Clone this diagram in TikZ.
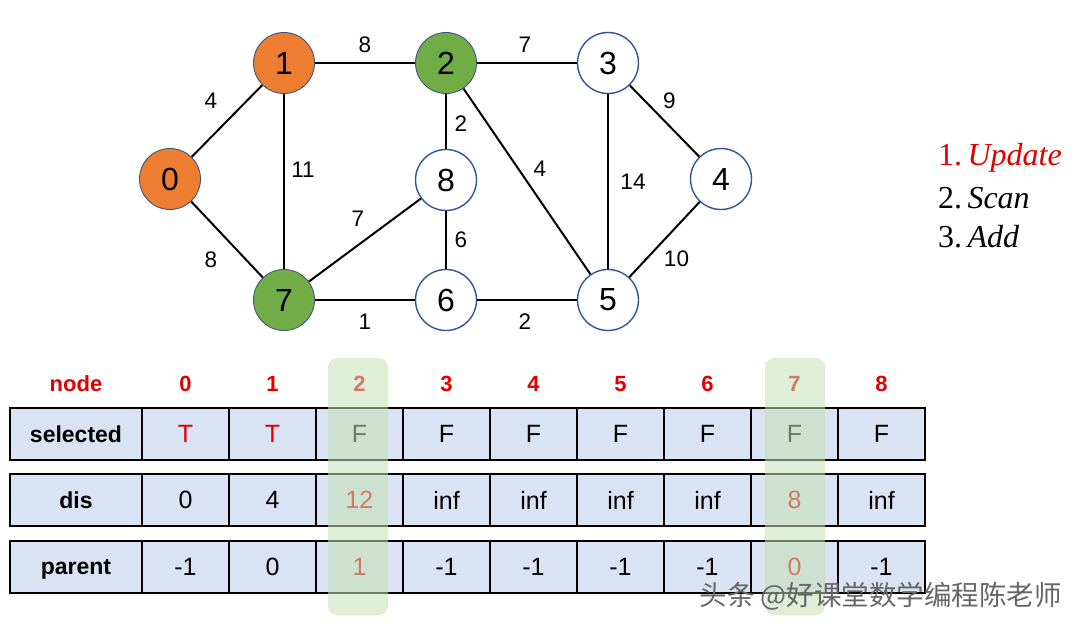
\documentclass[tikz,border=0pt]{standalone}
\usepackage{fontspec}
\setmainfont{Liberation Sans}
\newfontfamily\cjkfont{Noto Sans CJK SC}
\newfontfamily\stepfont{Liberation Serif}
\usetikzlibrary{calc}
\usetikzlibrary{positioning}
\definecolor{nodeorange}{HTML}{ED7D31}
\definecolor{nodegreen}{HTML}{70AD47}
\definecolor{rimblue}{HTML}{2F5597}
\definecolor{rimdark}{HTML}{41557A}
\definecolor{cellblue}{HTML}{DAE3F3}
\definecolor{markgreen}{HTML}{C5E0B4}
\definecolor{headred}{HTML}{E00000}
\tikzstyle{vertex} = [draw=rimblue, circle, line width=1.4pt, minimum size=61pt, inner sep=0pt, fill=white, font=\fontsize{32}{36}\selectfont]
\tikzstyle{colorA} = [fill=nodeorange, draw=rimdark, line width=0.9pt]
\tikzstyle{colorB} = [fill=nodegreen, draw=rimdark, line width=0.9pt]
\tikzstyle{edge} = [line width=2pt]
\tikzstyle{weight} = [font=\fontsize{22.5}{25}\selectfont, inner sep=0pt]
\tikzstyle{cell} = [draw, line width=2pt, fill=cellblue, minimum width=87pt, minimum height=52pt, inner sep=0pt, text depth=0pt, font=\fontsize{25}{28}\selectfont]
\tikzstyle{labcell} = [cell, minimum width=132pt, font=\fontsize{23}{26}\selectfont\bfseries]
\tikzstyle{headtext} = [text=headred, inner sep=0pt, font=\fontsize{22}{26}\selectfont\bfseries]
\tikzstyle{markcol} = [fill=markgreen, opacity=0.55, rounded corners=9pt, minimum width=60pt, minimum height=257pt, inner sep=0pt]
\tikzstyle{steptext} = [anchor=west, inner sep=0pt, font=\stepfont\fontsize{32}{36}\selectfont]

\begin{document}
\begin{tikzpicture}[x=1pt, y=-1pt]
\useasboundingbox (0,0) rectangle (1080,626);
% graph
\node[vertex, colorA] (n0) at (170,179) {0};
\node[vertex, colorA] (n1) at ($(n0)+(114,-116)$) {1};
\node[vertex, colorB] (n2) at ($(n1)+(162,0)$) {2};
\node[vertex] (n3) at ($(n2)+(162,0)$) {3};
\node[vertex] (n4) at ($(n0)+(551,0)$) {4};
\node[vertex] (n8) at ($(n2)+(0,117)$) {8};
\node[vertex, colorB] (n7) at ($(n1)+(0,237)$) {7};
\node[vertex] (n6) at ($(n7)+(162,0)$) {6};
\node[vertex] (n5) at ($(n6)+(162,0)$) {5};
\draw[edge] (n0) -- node[weight, xshift=-16pt, yshift=20pt] {4} (n1);
\draw[edge] (n1) -- node[weight, yshift=18pt] {8} (n2);
\draw[edge] (n2) -- node[weight, xshift=-2pt, yshift=18pt] {7} (n3);
\draw[edge] (n3) -- node[weight, xshift=5pt, yshift=20pt] {9} (n4);
\draw[edge] (n1) -- node[weight, xshift=19pt, yshift=12pt] {11} (n7);
\draw[edge] (n2) -- node[weight, xshift=15pt, yshift=-2pt] {2} (n8);
\draw[edge] (n2) -- node[weight, xshift=13pt, yshift=13pt] {4} (n5);
\draw[edge] (n3) -- node[weight, xshift=25pt] {14} (n5);
\draw[edge] (n8) -- node[weight, xshift=-7pt, yshift=21pt] {7} (n7);
\draw[edge] (n8) -- node[weight, xshift=15pt] {6} (n6);
\draw[edge] (n0) -- node[weight, xshift=-16pt, yshift=-20pt] {8} (n7);
\draw[edge] (n4) -- node[weight, xshift=12pt, yshift=-19pt] {10} (n5);
\draw[edge] (n7) -- node[weight, yshift=-22pt] {1} (n6);
\draw[edge] (n6) -- node[weight, xshift=-2pt, yshift=-22pt] {2} (n5);

% steps
\node[steptext, text=headred] (up) at (938,158) {1.\,\textit{Update}};
\node[steptext] (scan) at ($(up.west)+(0,40)$) {2.\,\textit{Scan}};
\node[steptext] (add) at ($(scan.west)+(0,39)$) {3.\,\textit{Add}};

% table header
\node[headtext] (head) at (76,384) {node};
\node[headtext] (h0) at ($(head)+(109.5,0)$) {0};
\node[headtext] (h1) at ($(h0)+(87,0)$) {1};
\node[headtext] (h2) at ($(h1)+(87,0)$) {2};
\node[headtext] (h3) at ($(h2)+(87,0)$) {3};
\node[headtext] (h4) at ($(h3)+(87,0)$) {4};
\node[headtext] (h5) at ($(h4)+(87,0)$) {5};
\node[headtext] (h6) at ($(h5)+(87,0)$) {6};
\node[headtext] (h7) at ($(h6)+(87,0)$) {7};
\node[headtext] (h8) at ($(h7)+(87,0)$) {8};

% selected
\node[labcell] (sel) at (76,434) {selected};
\node[cell, text=headred] (s0) at ($(sel)+(109.5,0)$) {T};
\node[cell, text=headred] (s1) at ($(s0)+(87,0)$) {T};
\node[cell] (s2) at ($(s1)+(87,0)$) {F};
\node[cell] (s3) at ($(s2)+(87,0)$) {F};
\node[cell] (s4) at ($(s3)+(87,0)$) {F};
\node[cell] (s5) at ($(s4)+(87,0)$) {F};
\node[cell] (s6) at ($(s5)+(87,0)$) {F};
\node[cell] (s7) at ($(s6)+(87,0)$) {F};
\node[cell] (s8) at ($(s7)+(87,0)$) {F};

% dis
\node[labcell] (dis) at ($(sel)+(0,66)$) {dis};
\node[cell] (d0) at ($(dis)+(109.5,0)$) {0};
\node[cell] (d1) at ($(d0)+(87,0)$) {4};
\node[cell, text=headred] (d2) at ($(d1)+(87,0)$) {12};
\node[cell] (d3) at ($(d2)+(87,0)$) {inf};
\node[cell] (d4) at ($(d3)+(87,0)$) {inf};
\node[cell] (d5) at ($(d4)+(87,0)$) {inf};
\node[cell] (d6) at ($(d5)+(87,0)$) {inf};
\node[cell, text=headred] (d7) at ($(d6)+(87,0)$) {8};
\node[cell] (d8) at ($(d7)+(87,0)$) {inf};

% parent
\node[labcell] (par) at ($(dis)+(0,67)$) {parent};
\node[cell] (p0) at ($(par)+(109.5,0)$) {-1};
\node[cell] (p1) at ($(p0)+(87,0)$) {0};
\node[cell, text=headred] (p2) at ($(p1)+(87,0)$) {1};
\node[cell] (p3) at ($(p2)+(87,0)$) {-1};
\node[cell] (p4) at ($(p3)+(87,0)$) {-1};
\node[cell] (p5) at ($(p4)+(87,0)$) {-1};
\node[cell] (p6) at ($(p5)+(87,0)$) {-1};
\node[cell, text=headred] (p7) at ($(p6)+(87,0)$) {0};
\node[cell] (p8) at ($(p7)+(87,0)$) {-1};

% highlighted columns
\node[markcol] (col2) at ($(h2)+(-1.5,102.5)$) {};
\node[markcol] (col7) at ($(h7)+(0.5,102.5)$) {};

\node[anchor=east, inner sep=0pt, text=black!60, font=\cjkfont\fontsize{27.5}{30}\selectfont] (wm) at (1062,596) {头条 @好课堂数学编程陈老师};
\end{tikzpicture}
\end{document}
